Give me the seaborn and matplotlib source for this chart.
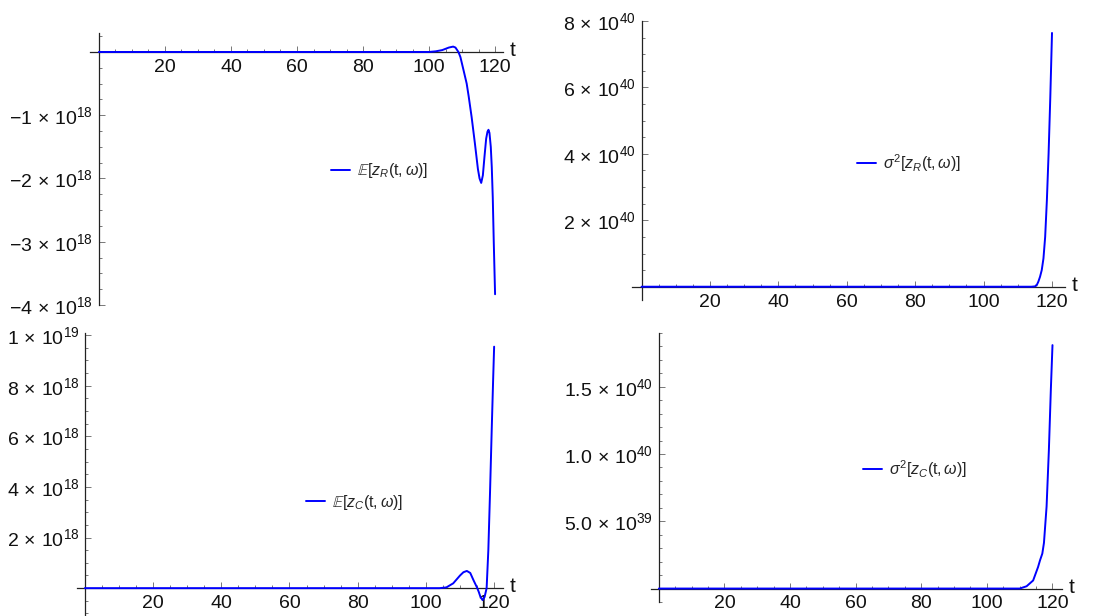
import numpy as np
import pandas as pd
import matplotlib
matplotlib.use('Agg')
import matplotlib.pyplot as plt
import seaborn as sns
from matplotlib.ticker import FixedLocator, MultipleLocator

sns.set_style('white')
plt.rcParams['font.family'] = ['Liberation Sans', 'DejaVu Sans']
plt.rcParams['mathtext.fontset'] = 'custom'
plt.rcParams['mathtext.rm'] = 'Liberation Sans'
plt.rcParams['mathtext.it'] = 'Liberation Sans:italic'
plt.rcParams['mathtext.bf'] = 'Liberation Sans:bold'
plt.rcParams['mathtext.fallback'] = 'stixsans'

# --- data (values in units of 1e18 / 1e40) ---
t_mean_r = [0, 100, 102, 104, 106, 107.3, 108, 108.9, 109.5, 110.5, 111.4, 112, 112.9,
            113.9, 114.8, 115.3, 115.8, 116.3, 116.8, 117.3, 117.7, 118, 118.3, 118.7,
            119, 119.3, 119.6, 120]
mean_r = [0, 0, 0.01, 0.03, 0.07, 0.085, 0.07, 0, -0.08, -0.3, -0.5, -0.7, -1.03,
          -1.45, -1.85, -2.0, -2.07, -1.95, -1.65, -1.37, -1.26, -1.23, -1.28, -1.5,
          -1.82, -2.3, -3.0, -3.83]

t_var_r = [0, 114, 115, 115.5, 116, 116.5, 117, 117.5, 118, 118.5, 119, 119.5, 120]
var_r = [0, 0, 0.01, 0.04, 0.15, 0.3, 0.5, 0.85, 1.5, 2.6, 4.0, 5.7, 7.64]

t_mean_c = [0, 104, 106, 108, 110, 111, 112, 113, 114, 115, 115.5, 116, 116.6, 117.2,
            117.8, 118.3, 118.8, 119.3, 119.7, 120]
mean_c = [0, 0, 0.03, 0.19, 0.5, 0.63, 0.68, 0.6, 0.3, 0.02, -0.15, -0.35, -0.47, -0.35,
          0, 1.5, 3.8, 6.3, 8.2, 9.54]

t_var_c = [0, 110, 112.1, 114.1, 115.6, 116.2, 116.9, 117.4, 118.2, 118.9, 119.5, 120]
var_c = [0, 0, 0.017, 0.06, 0.16, 0.21, 0.26, 0.34, 0.61, 1.03, 1.48, 1.81]

x_ticks = [20, 40, 60, 80, 100, 120]

W, H = 1116, 616
fig = plt.figure(figsize=(W / 100, H / 100), dpi=100)


def sci(m, e):
    return r'$%s\,\times\,10^{%d}$' % (m, e)


def panel(box, t, v, scale, xlim, ylim, yt, ylabels, yminor, label, leg_xy):
    l, r, top, bot = box
    ax = fig.add_axes([l / W, 1 - bot / H, (r - l) / W, (bot - top) / H])
    df = pd.DataFrame({'t': t, 'v': np.array(v) * scale})
    sns.lineplot(data=df, x='t', y='v', ax=ax, color='#0000ff', lw=1.4,
                 label=label, sort=False, estimator=None, zorder=3)
    ax.set_xlim(xlim)
    ax.set_ylim(ylim[0] * scale, ylim[1] * scale)
    for s in ['top', 'right']:
        ax.spines[s].set_visible(False)
    for s in ['left', 'bottom']:
        ax.spines[s].set_position(('data', 0))
        ax.spines[s].set_color('#222222')
        ax.spines[s].set_linewidth(0.9)
    ax.xaxis.set_major_locator(FixedLocator(x_ticks))
    ax.xaxis.set_minor_locator(MultipleLocator(5))
    ax.yaxis.set_major_locator(FixedLocator([y * scale for y in yt]))
    ax.yaxis.set_minor_locator(MultipleLocator(yminor * scale))
    ax.set_xticklabels([str(x) for x in x_ticks])
    ax.set_yticklabels(ylabels)
    ax.tick_params(which='both', direction='in', color='#777777', width=0.7,
                   bottom=True, left=True, labelsize=14, labelcolor='#111111')
    ax.tick_params(axis='x', which='major', length=4, pad=5)
    ax.tick_params(axis='y', which='major', length=4, pad=4)
    ax.tick_params(which='minor', length=2.5)
    ax.set_xlabel('')
    ax.set_ylabel('')
    ax.annotate('t', xy=(1, 0), xycoords=ax.get_yaxis_transform(),
                xytext=(5, 1), textcoords='offset points',
                ha='left', va='center', fontsize=15, color='#111111')
    ax.legend(loc='center left', bbox_to_anchor=(leg_xy[0] / W, 1 - leg_xy[1] / H),
              bbox_transform=fig.transFigure, frameon=False, fontsize=11.5,
              handlelength=1.2, handletextpad=0.45, borderpad=0, borderaxespad=0)
    ax.patch.set_alpha(0)
    return ax


panel((90, 503, 33, 305), t_mean_r, mean_r, 1e18, (-2.7, 122.4), (-4.0, 0.3),
      [-4, -3, -2, -1],
      [sci('-4', 18), sci('-3', 18), sci('-2', 18), sci('-1', 18)],
      0.25, r'$\mathbb{E}[z_R(\mathrm{t},\omega)]$', (331, 171))

panel((632, 1065, 21, 300), t_var_r, var_r, 1e40, (-2.8, 123.8), (-0.4, 8.0),
      [2, 4, 6, 8],
      [sci('2', 40), sci('4', 40), sci('6', 40), sci('8', 40)],
      0.5, r'$\sigma^2[z_R(\mathrm{t},\omega)]$', (857, 163))

panel((77, 503, 333, 616), t_mean_c, mean_c, 1e18, (-2.3, 122.6), (-1.1, 10.08),
      [2, 4, 6, 8, 10],
      [sci('2', 18), sci('4', 18), sci('6', 18), sci('8', 18), sci('1', 19)],
      0.5, r'$\mathbb{E}[z_C(\mathrm{t},\omega)]$', (306, 502))

panel((651, 1062, 333, 602), t_var_c, var_c, 1e40, (-2.4, 122.9), (-0.1, 1.9),
      [0.5, 1.0, 1.5],
      [sci('5.0', 39), sci('1.0', 40), sci('1.5', 40)],
      0.1, r'$\sigma^2[z_C(\mathrm{t},\omega)]$', (863, 469))

plt.savefig('out.png', dpi=100)
plt.close()
print("Saved out.png")
